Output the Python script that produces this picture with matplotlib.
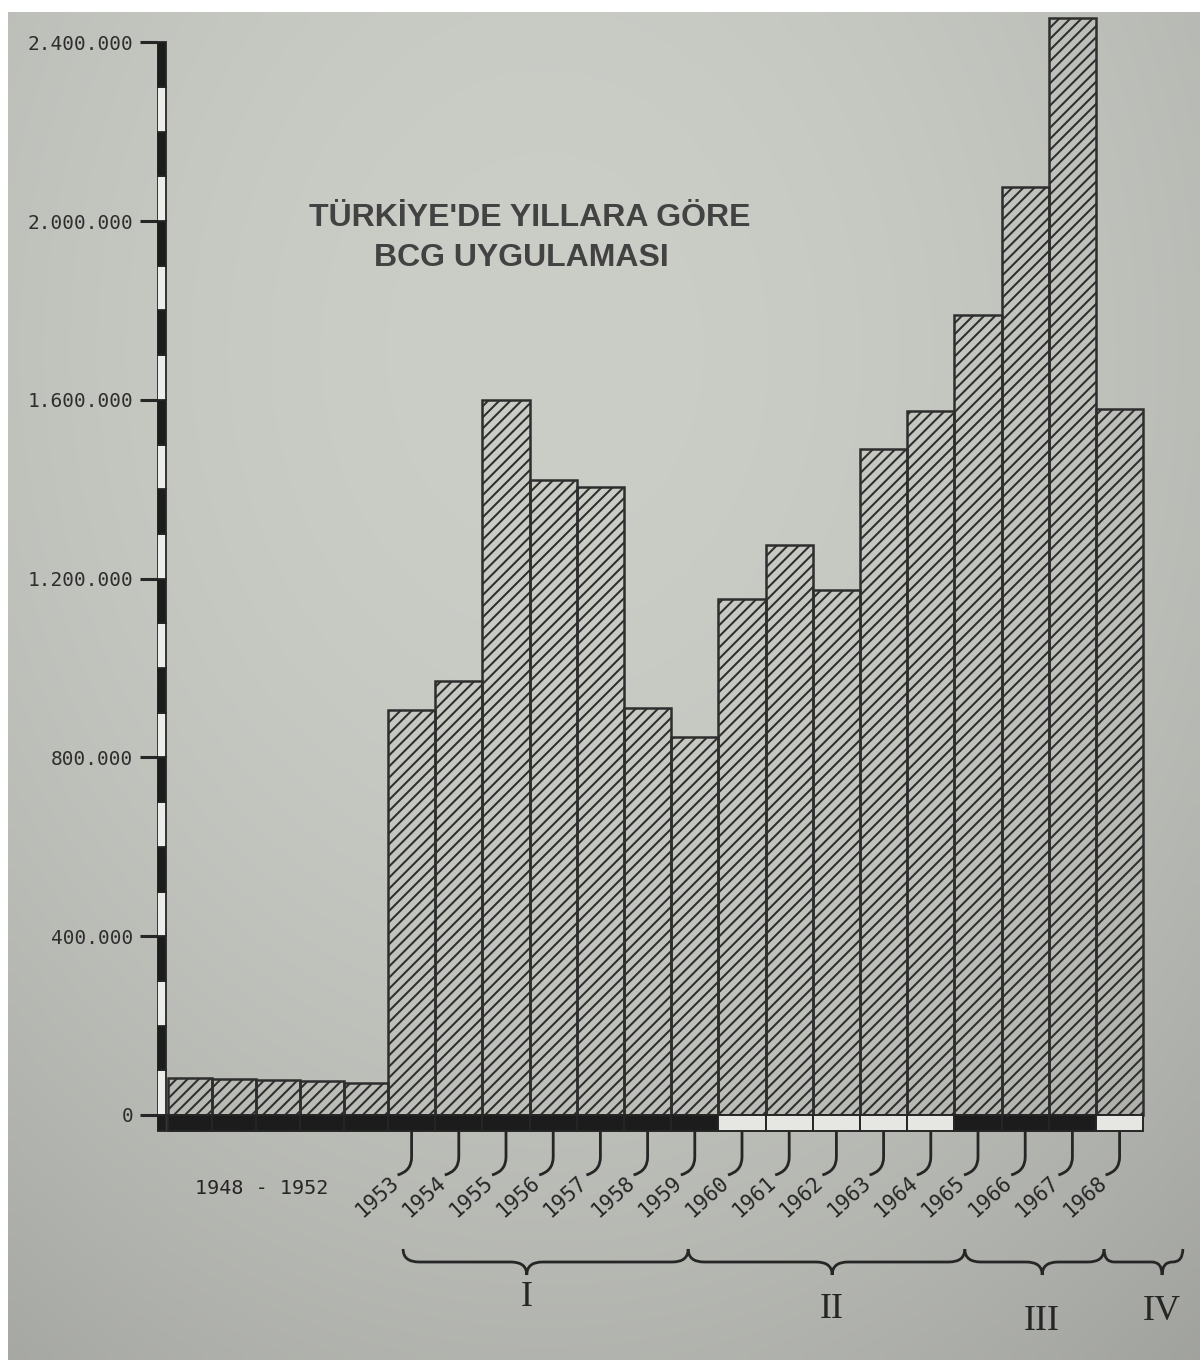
"""
plot.py

Redraws the old printed chart of BCG vaccinations in Turkey per year
(hatched bars, typewriter style axis, year hooks and period braces).
"""

import numpy as np
import matplotlib
matplotlib.use("Agg")
import matplotlib.pyplot as plt
from matplotlib.path import Path
from matplotlib.patches import PathPatch

# values
early_years = ["1948", "1949", "1950", "1951", "1952"]
early_values = [82000, 80000, 78000, 76000, 72000]

years = ["1953", "1954", "1955", "1956", "1957", "1958", "1959", "1960",
         "1961", "1962", "1963", "1964", "1965", "1966", "1967", "1968"]
values = [905000, 970000, 1600000, 1420000, 1405000, 910000, 845000, 1155000,
          1275000, 1175000, 1490000, 1575000, 1790000, 2075000, 2455000, 1580000]

periods = ["I", "II", "III", "IV"]
period_sizes = [7, 5, 3, 1]          # number of years in each period
period_dark = [True, False, True, False]   # colour of the base strip

y_ticks = [0, 400000, 800000, 1200000, 1600000, 2000000, 2400000]
title_lines = ["TÜRKİYE'DE YILLARA GÖRE", "BCG UYGULAMASI"]
early_label = "1948 - 1952"

# where the braces start/end and dip, in bar widths from the 1953 bar
brace_ends = [0.32, 6.36, 12.22, 15.17, 16.84]
brace_cusps = [2.94, 9.41, 13.86, 16.4]
roman_drop = [1297, 1309, 1322, 1312]   # pixel rows of the numerals

# page geometry (pixels of the 1200x1360 picture)
W, H = 1200, 1360
BAR_PX = 47.2        # width of one yearly bar
EARLY_W = 44 / BAR_PX
ZERO_PX = 1115       # y pixel of value 0
PX_PER_M = 447.0     # pixels per million


def vx(px):
    return px / BAR_PX


def vy(px):
    return px / PX_PER_M * 1e6


INK = "#262626"
PAPER = np.array([203, 205, 199]) / 255.0

plt.rcParams["hatch.linewidth"] = 1.45

fig = plt.figure(figsize=(W / 100, H / 100), dpi=100, facecolor="white")

# photographed paper: grey with darker corners
bg = fig.add_axes([8 / W, 0, (W - 8) / W, (H - 12) / H], zorder=-5)
gy, gx = np.mgrid[0:1:120j, 0:1:110j]
r = np.sqrt(((gx - 0.45) / 0.9) ** 2 + ((gy - 0.25) / 1.0) ** 2)
shade = 1.0 - 0.22 * r ** 2
img = np.clip(PAPER[None, None, :] * shade[:, :, None], 0, 1)
bg.imshow(img, aspect="auto", interpolation="bilinear", extent=(0, 1, 1, 0))
bg.axis("off")

ax = fig.add_axes([157 / W, 0, (1195 - 157) / W, 1])
ax.set_facecolor("none")
ax.set_xlim(-vx(168 - 157), vx(1195 - 168))
ax.set_ylim(-vy(H - ZERO_PX), vy(ZERO_PX))

n_early = len(early_years)
x_early = np.arange(n_early) * EARLY_W
x0_main = n_early * EARLY_W
x_main = x0_main + np.arange(len(years))

bar_kw = dict(align="edge", facecolor="none", edgecolor="#2e2e2e",
              linewidth=1.8, hatch="///")
ax.bar(x_early, early_values, width=EARLY_W, **bar_kw)
ax.bar(x_main, values, width=1.0, **bar_kw)

# base strip under the bars, black or white by period
STRIP = vy(16)
strip_cols = []
for size, dark in zip(period_sizes, period_dark):
    strip_cols += ["#1c1c1c" if dark else "#e6e7e3"] * size
ax.bar(x_early, -STRIP, width=EARLY_W, align="edge", color="#1c1c1c",
       edgecolor=INK, linewidth=1.4)
ax.bar(x_main, -STRIP, width=1.0, align="edge", color=strip_cols,
       edgecolor=INK, linewidth=1.4)

# y axis drawn as a black/white scale bar
seg = 100000
seg_bottoms = np.arange(0, y_ticks[-1], seg)
seg_cols = ["#1c1c1c" if (len(seg_bottoms) - 1 - i) % 2 == 0 else "#ececea"
            for i in range(len(seg_bottoms))]
ax.bar(np.full(len(seg_bottoms), -vx(11)), seg, bottom=seg_bottoms,
       width=vx(9), align="edge", color=seg_cols, edgecolor=INK, linewidth=1.3)
ax.bar(-vx(11), -STRIP, width=vx(9), align="edge", color="#1c1c1c",
       edgecolor=INK, linewidth=1.3)

ax.set_yticks(y_ticks)
ax.set_yticklabels([f"{v:,}".replace(",", ".") for v in y_ticks],
                   family="DejaVu Sans Mono", fontsize=14, color="#2e2e2e")
ax.tick_params(axis="y", direction="out", length=12, width=2.2, color=INK, pad=5)
ax.set_xticks([])
for s in ax.spines.values():
    s.set_visible(False)

# hooks from the strip to the rotated year labels
for xi, yr in zip(x_main, years):
    xc = xi + 0.5
    y0 = -STRIP
    verts = [(xc, y0), (xc, y0 - vy(26)), (xc, y0 - vy(40)),
             (xc - vx(14), y0 - vy(44))]
    codes = [Path.MOVETO, Path.LINETO, Path.CURVE3, Path.CURVE3]
    ax.add_patch(PathPatch(Path(verts, codes), facecolor="none",
                           edgecolor=INK, linewidth=2.0))
    ax.text(xc - vx(16), y0 - vy(49), yr, rotation=42, rotation_mode="anchor",
            ha="right", va="center", family="DejaVu Sans Mono",
            fontsize=15, color=INK)

ax.text(n_early * EARLY_W / 2 - 0.35, -vy(1188 - ZERO_PX), early_label,
        ha="center", va="center", family="DejaVu Sans Mono",
        fontsize=14.5, color=INK)

# braces grouping the years into periods
y_br = -vy(1262 - ZERO_PX)
hb = vy(13)
d = vx(16)
for k, lab in enumerate(periods):
    xs = x0_main + brace_ends[k]
    xe = x0_main + brace_ends[k + 1]
    xm = x0_main + brace_cusps[k]
    dd = min(d, (xm - xs) / 2, (xe - xm) / 2)
    verts = [(xs, y_br + hb), (xs, y_br), (xs + dd, y_br),
             (xm - dd, y_br), (xm, y_br), (xm, y_br - hb),
             (xm, y_br), (xm + dd, y_br),
             (xe - dd, y_br), (xe, y_br), (xe, y_br + hb)]
    codes = [Path.MOVETO, Path.CURVE3, Path.CURVE3,
             Path.LINETO, Path.CURVE3, Path.CURVE3,
             Path.CURVE3, Path.CURVE3,
             Path.LINETO, Path.CURVE3, Path.CURVE3]
    ax.add_patch(PathPatch(Path(verts, codes), facecolor="none",
                           edgecolor=INK, linewidth=2.0))
    ax.text(xm, -vy(roman_drop[k] - ZERO_PX), lab, ha="center", va="center",
            family="Liberation Serif", fontsize=26, color=INK)

# title on the paper
fig.text(530 / W, 1 - 218 / H, title_lines[0], ha="center", va="center",
         family="Liberation Sans", fontweight="bold", fontsize=23,
         color="#424242")
fig.text(521 / W, 1 - 258 / H, title_lines[1], ha="center", va="center",
         family="Liberation Sans", fontweight="bold", fontsize=23,
         color="#424242")

fig.savefig("out.png", dpi=100, facecolor="white")
